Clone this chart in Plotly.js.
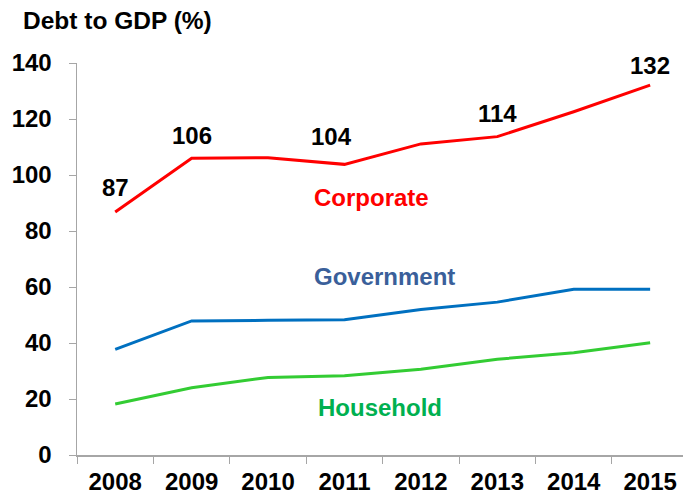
<!DOCTYPE html>
<html>
<head>
<meta charset="utf-8">
<script src="https://cdn.plot.ly/plotly-3.0.1.min.js"></script>
<style>html,body{margin:0;padding:0;background:#fff}#chart{width:683px;height:499px}</style>
</head>
<body>
<div id="chart"></div>
<script>
const years = ["2008","2009","2010","2011","2012","2013","2014","2015"];
const corporate = [86.8, 106.0, 106.2, 103.8, 111.1, 113.7, 122.6, 132.1];
const government = [37.7, 47.9, 48.1, 48.3, 52.0, 54.6, 59.2, 59.2];
const household = [18.2, 24.0, 27.7, 28.3, 30.6, 34.2, 36.5, 40.1];
const labelledIdx = [0, 1, 3, 5, 7];
const yTicks = [0, 20, 40, 60, 80, 100, 120, 140];

const FONT = "Arial, 'Liberation Sans', sans-serif";
const labelShift = {0:[0,24], 1:[0,23], 3:[-13,28], 5:[0,23], 7:[0,20]};

const traces = [
  {x: years, y: corporate, type: 'scatter', mode: 'lines', line: {color: '#FF0000', width: 3}, hoverinfo: 'skip'},
  {x: years, y: government, type: 'scatter', mode: 'lines', line: {color: '#0070C0', width: 3}, hoverinfo: 'skip'},
  {x: years, y: household, type: 'scatter', mode: 'lines', line: {color: '#33CC33', width: 3}, hoverinfo: 'skip'}
];

const annotations = labelledIdx.map(i => ({
  x: i, y: corporate[i], xref: 'x', yref: 'y', showarrow: false,
  text: '<b>' + String(Math.round(corporate[i])) + '</b>',
  xshift: labelShift[i][0], yshift: labelShift[i][1],
  font: {family: FONT, size: 24, color: '#000'}
}));
annotations.push(
  {x: 3.35, y: 92.1, xref: 'x', yref: 'y', showarrow: false, text: '<b>Corporate</b>', font: {family: FONT, size: 24, color: '#FF0000'}},
  {x: 3.52, y: 63.9, xref: 'x', yref: 'y', showarrow: false, text: '<b>Government</b>', font: {family: FONT, size: 24, color: '#3A5F9A'}},
  {x: 3.47, y: 16.8, xref: 'x', yref: 'y', showarrow: false, text: '<b>Household</b>', font: {family: FONT, size: 24, color: '#00B050'}},
  {x: -56/606, y: 1 + 43/392, xref: 'paper', yref: 'paper', xanchor: 'left', yanchor: 'middle', showarrow: false, text: '<b>Debt to GDP (%)</b>', font: {family: FONT, size: 24.5, color: '#000'}}
);

const layout = {
  width: 683, height: 499,
  margin: {l: 77, r: 0, t: 63, b: 44},
  paper_bgcolor: '#fff', plot_bgcolor: '#fff',
  showlegend: false,
  font: {family: FONT, color: '#000'},
  xaxis: {
    type: 'category', range: [-0.5, 7.43], tickson: 'boundaries',
    ticks: 'outside', ticklen: 7, tickcolor: '#A6A6A6', tickwidth: 1,
    showline: true, linecolor: '#A6A6A6', linewidth: 1.5,
    showgrid: false, zeroline: false, ticklabelstandoff: 5,
    tickfont: {family: FONT, size: 24, color: '#000', weight: 'bold'}
  },
  yaxis: {
    range: [0, 140], tickvals: yTicks, ticktext: yTicks.map(String),
    ticks: 'outside', ticklen: 7, tickcolor: '#A6A6A6', tickwidth: 1,
    showline: true, linecolor: '#A6A6A6', linewidth: 1.5,
    showgrid: false, zeroline: false, ticklabelstandoff: 12,
    tickfont: {family: FONT, size: 24, color: '#000', weight: 'bold'}
  },
  annotations: annotations
};

Plotly.newPlot('chart', traces, layout, {displayModeBar: false, staticPlot: true});
</script>
</body>
</html>
